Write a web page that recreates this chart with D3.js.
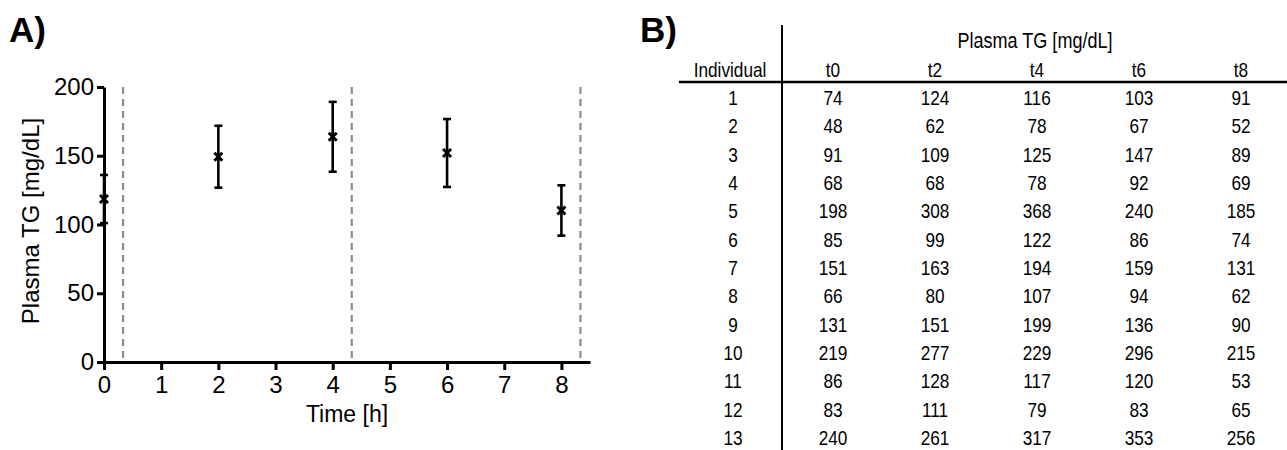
<!DOCTYPE html>
<html>
<head>
<meta charset="utf-8">
<script src="https://cdn.jsdelivr.net/npm/d3@7"></script>
<style>
  body { margin: 0; background: #fff; }
  svg { display: block; }
</style>
</head>
<body>
<div id="chart"></div>
<script>
// data
var times = [0, 2, 4, 6, 8];
var meanTG = [118.5, 149.3, 163.8, 152.0, 110.2];
var semTG = [17.5, 22.5, 25.4, 24.7, 18.3];
var phaseBreaks = [1/3, 4 + 1/3, 8 + 1/3];
var xTicks = [0, 1, 2, 3, 4, 5, 6, 7, 8];
var yTicks = [0, 50, 100, 150, 200];

var colLabels = ["t0", "t2", "t4", "t6", "t8"];
var individuals = [1, 2, 3, 4, 5, 6, 7, 8, 9, 10, 11, 12, 13];
var tg_t0 = [74, 48, 91, 68, 198, 85, 151, 66, 131, 219, 86, 83, 240];
var tg_t2 = [124, 62, 109, 68, 308, 99, 163, 80, 151, 277, 128, 111, 261];
var tg_t4 = [116, 78, 125, 78, 368, 122, 194, 107, 199, 229, 117, 79, 317];
var tg_t6 = [103, 67, 147, 92, 240, 86, 159, 94, 136, 296, 120, 83, 353];
var tg_t8 = [91, 52, 89, 69, 185, 74, 131, 62, 90, 215, 53, 65, 256];

var W = 1287, H = 450;
var svg = d3.select("#chart").append("svg")
  .attr("width", W).attr("height", H);

var plotFont = "'Liberation Sans', Arial, sans-serif";

// ---------- panel A ----------
svg.append("text").attr("x", 9).attr("y", 42)
  .attr("font-family", plotFont).attr("font-weight", "bold").attr("font-size", 35)
  .text("A)");

var x = d3.scaleLinear().domain([0, 8.5]).range([104, 590]);
var y = d3.scaleLinear().domain([0, 200]).range([362, 87]);

// dashed phase lines
svg.selectAll("line.phase")
  .data(phaseBreaks)
  .enter().append("line")
  .attr("class", "phase")
  .attr("x1", function(d) { return x(d); })
  .attr("x2", function(d) { return x(d); })
  .attr("y1", y(200)).attr("y2", y(0))
  .attr("stroke", "#8c8c8c").attr("stroke-width", 2.2)
  .attr("stroke-dasharray", "7,5");

var xAxis = d3.axisBottom(x).tickValues(xTicks).tickSize(8).tickSizeOuter(0).tickPadding(6);
var yAxis = d3.axisLeft(y).tickValues(yTicks).tickSize(7).tickSizeOuter(0).tickPadding(3);

var gx = svg.append("g").attr("transform", "translate(0," + y(0) + ")").call(xAxis);
var gy = svg.append("g").attr("transform", "translate(" + x(0) + ",0)").call(yAxis);

[gx, gy].forEach(function(g) {
  g.select(".domain").attr("stroke", "#000").attr("stroke-width", 3);
  g.selectAll(".tick line").attr("stroke", "#000").attr("stroke-width", 3);
  g.selectAll(".tick text").attr("font-family", plotFont).attr("font-size", 24).attr("fill", "#000");
});

// axis titles
svg.append("text")
  .attr("transform", "translate(39,221) rotate(-90)")
  .attr("text-anchor", "middle")
  .attr("font-family", plotFont).attr("font-size", 24)
  .text("Plasma TG [mg/dL]");

svg.append("text")
  .attr("x", 347).attr("y", 422)
  .attr("text-anchor", "middle")
  .attr("font-family", plotFont).attr("font-size", 23)
  .text("Time [h]");

// error bars
var pts = times.map(function(t, i) { return {t: t, m: meanTG[i], e: semTG[i]}; });
var cap = 4;

var eb = svg.selectAll("g.eb").data(pts).enter().append("g").attr("class", "eb")
  .attr("stroke", "#000").attr("stroke-width", 2.6);
eb.append("line")
  .attr("x1", function(d) { return x(d.t); }).attr("x2", function(d) { return x(d.t); })
  .attr("y1", function(d) { return y(d.m - d.e); }).attr("y2", function(d) { return y(d.m + d.e); });
eb.append("line")
  .attr("x1", function(d) { return x(d.t) - cap; }).attr("x2", function(d) { return x(d.t) + cap; })
  .attr("y1", function(d) { return y(d.m + d.e); }).attr("y2", function(d) { return y(d.m + d.e); });
eb.append("line")
  .attr("x1", function(d) { return x(d.t) - cap; }).attr("x2", function(d) { return x(d.t) + cap; })
  .attr("y1", function(d) { return y(d.m - d.e); }).attr("y2", function(d) { return y(d.m - d.e); });

// x markers
var mk = 4;
svg.selectAll("path.mk").data(pts).enter().append("path")
  .attr("class", "mk")
  .attr("transform", function(d) { return "translate(" + x(d.t) + "," + y(d.m) + ")"; })
  .attr("d", "M" + (-mk) + "," + (-mk) + "L" + mk + "," + mk + "M" + (-mk) + "," + mk + "L" + mk + "," + (-mk))
  .attr("fill", "none").attr("stroke", "#000").attr("stroke-width", 3);

// ---------- panel B ----------
svg.append("text").attr("x", 640).attr("y", 42)
  .attr("font-family", plotFont).attr("font-weight", "bold").attr("font-size", 35)
  .text("B)");

var colX = d3.scalePoint().domain(colLabels).range([833, 1241]);
var rowY = d3.scalePoint().domain(individuals).range([105, 445]);
var indX = 733;
var columns = [tg_t0, tg_t2, tg_t4, tg_t6, tg_t8];
var squeeze = 0.82; // table text is condensed

// rules
svg.append("line").attr("x1", 782).attr("x2", 782).attr("y1", 25).attr("y2", H)
  .attr("stroke", "#000").attr("stroke-width", 2);
svg.append("line").attr("x1", 679).attr("x2", W).attr("y1", 82).attr("y2", 82)
  .attr("stroke", "#000").attr("stroke-width", 2.5);

var tb = svg.append("g")
  .attr("font-family", plotFont).attr("font-size", 21)
  .attr("text-anchor", "middle").attr("fill", "#000");

function cell(px, py, txt, size) {
  var t = tb.append("text")
    .attr("transform", "translate(" + px + "," + py + ") scale(" + squeeze + ",1)")
    .text(txt);
  if (size) t.attr("font-size", size);
  return t;
}

cell(1035, 48, "Plasma TG [mg/dL]", 22);
cell(730, 77, "Individual");
colLabels.forEach(function(c) { cell(colX(c), 77, c); });
individuals.forEach(function(d) { cell(indX, rowY(d), d); });

columns.forEach(function(col, ci) {
  col.forEach(function(v, i) { cell(colX(colLabels[ci]), rowY(individuals[i]), v); });
});
</script>
</body>
</html>
